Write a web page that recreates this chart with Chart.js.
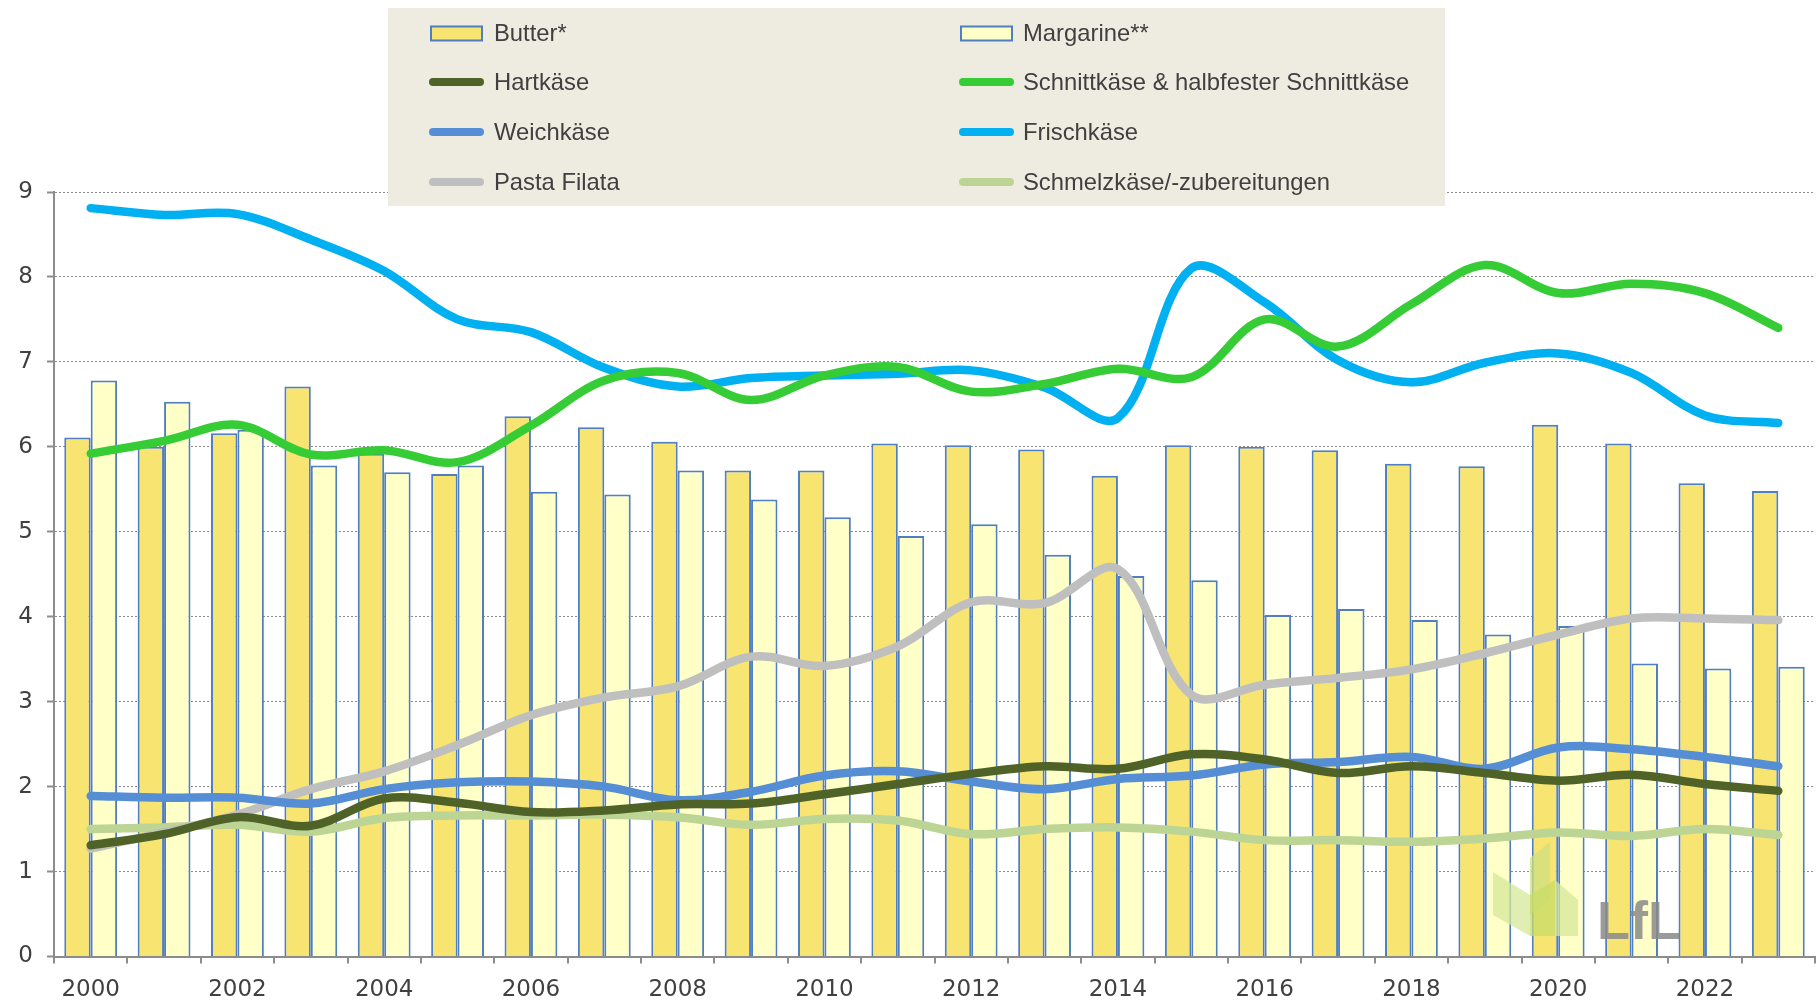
<!DOCTYPE html>
<html><head><meta charset="utf-8">
<script src="https://cdn.jsdelivr.net/npm/chart.js@4/dist/chart.umd.min.js"></script>
<style>html,body{margin:0;padding:0;background:#fff}#wrap{width:1817px;height:1002px}</style>
</head><body><div id="wrap"><canvas id="c" width="1817" height="1002"></canvas></div>
<script>
const years = ['2000','2001','2002','2003','2004','2005','2006','2007','2008','2009','2010','2011','2012','2013','2014','2015','2016','2017','2018','2019','2020','2021','2022','2023'];
const yTicks = [0,1,2,3,4,5,6,7,8,9];
const butter =      [6.11,6.00,6.16,6.71,5.92,5.68,6.36,6.23,6.06,5.72,5.72,6.04,6.02,5.97,5.66,6.02,6.00,5.96,5.80,5.77,6.26,6.04,5.57,5.48];
const margarine =   [6.78,6.53,6.20,5.78,5.70,5.78,5.47,5.44,5.72,5.38,5.17,4.95,5.09,4.73,4.48,4.43,4.02,4.09,3.96,3.79,3.89,3.45,3.39,3.41];
const hartkaese =   [1.31,1.44,1.64,1.54,1.86,1.81,1.70,1.72,1.79,1.80,1.91,2.03,2.15,2.24,2.21,2.38,2.32,2.16,2.24,2.16,2.07,2.14,2.03,1.95];
const schnittkaese =[5.92,6.07,6.26,5.91,5.96,5.82,6.25,6.78,6.87,6.55,6.84,6.94,6.65,6.74,6.92,6.82,7.50,7.18,7.68,8.14,7.81,7.92,7.81,7.40];
const weichkaese =  [1.89,1.87,1.87,1.80,1.97,2.05,2.06,2.00,1.84,1.94,2.13,2.18,2.06,1.97,2.09,2.13,2.26,2.29,2.35,2.21,2.46,2.44,2.35,2.24];
const frischkaese = [8.81,8.73,8.74,8.44,8.07,7.50,7.35,6.93,6.71,6.81,6.84,6.86,6.90,6.70,6.34,8.10,7.70,7.02,6.76,6.99,7.10,6.87,6.37,6.28];
const pastaFilata = [1.27,1.46,1.67,1.97,2.18,2.49,2.84,3.05,3.18,3.53,3.42,3.65,4.17,4.16,4.56,3.08,3.20,3.28,3.38,3.57,3.79,3.98,3.98,3.96];
const schmelzkaese =[1.50,1.52,1.55,1.47,1.63,1.66,1.66,1.67,1.64,1.55,1.62,1.60,1.44,1.50,1.52,1.47,1.37,1.37,1.35,1.39,1.46,1.42,1.50,1.43];

const BAR_BORDER = '#4f7fc0';
function lineDs(label, data, color){
  return {type:'line', label, data, borderColor:color, backgroundColor:color, borderWidth:8.5,
    tension:0.35, pointRadius:0, pointHoverRadius:0, fill:false, borderCapStyle:'round', borderJoinStyle:'round', order:1};
}
const datasets = [
  {type:'bar', label:'Butter*', data:butter, backgroundColor:'#f8e470', borderColor:BAR_BORDER, borderWidth:2, order:10, categoryPercentage:0.72, barPercentage:1.0},
  {type:'bar', label:'Margarine**', data:margarine, backgroundColor:'#ffffc8', borderColor:BAR_BORDER, borderWidth:2, order:10, categoryPercentage:0.72, barPercentage:1.0},
  lineDs('Hartkäse', hartkaese, '#4f6228'),
  lineDs('Schnittkäse & halbfester Schnittkäse', schnittkaese, '#35cc35'),
  lineDs('Weichkäse', weichkaese, '#558ed5'),
  lineDs('Frischkäse', frischkaese, '#00b0f0'),
  lineDs('Pasta Filata', pastaFilata, '#bfbfbf'),
  lineDs('Schmelzkäse/-zubereitungen', schmelzkaese, '#bdd594')
];

const logoPlugin = {
  id:'logo',
  afterDatasetsDraw(chart){
    const ctx = chart.ctx;
    ctx.save();
    ctx.globalAlpha = 0.75;
    const polys = [
      {c:'#d6e89a', p:[[1493,872],[1530,895],[1530,936],[1493,915]]},
      {c:'#cfe080', p:[[1530,858],[1550,842],[1550,900],[1530,915]]},
      {c:'#c8dc6a', p:[[1530,895],[1555,880],[1555,936],[1530,936]]},
      {c:'#d6e89a', p:[[1555,880],[1578,900],[1578,936],[1555,936]]}
    ];
    polys.forEach(o=>{ctx.fillStyle=o.c; ctx.beginPath(); o.p.forEach((q,i)=> i?ctx.lineTo(q[0],q[1]):ctx.moveTo(q[0],q[1])); ctx.closePath(); ctx.fill();});
    ctx.globalAlpha = 0.85;
    ctx.fillStyle = '#8a8a8a';
    ctx.font = 'bold 54px "Liberation Sans", Arial, sans-serif';
    ctx.textBaseline = 'alphabetic';
    ctx.fillText('LfL', 1597, 939);
    ctx.restore();
  }
};

const legendPlugin = {
  id:'boxLegend',
  afterDraw(chart){
    const ctx = chart.ctx;
    ctx.save();
    ctx.fillStyle = '#eeebe0';
    ctx.fillRect(388, 8, 1057, 198);
    const rowY = [33.5, 82, 132, 182];
    const swX = [429, 959];
    const txX = [494, 1023];
    ctx.font = '23.8px "Liberation Sans", Arial, sans-serif';
    ctx.textBaseline = 'middle';
    chart.data.datasets.forEach((ds, i)=>{
      const col = i % 2, row = Math.floor(i/2);
      const y = rowY[row];
      if (ds.type === 'bar'){
        ctx.fillStyle = ds.backgroundColor;
        ctx.fillRect(swX[col]+2, y-7, 51, 14);
        ctx.strokeStyle = ds.borderColor; ctx.lineWidth = 2;
        ctx.strokeRect(swX[col]+2, y-7, 51, 14);
      } else {
        ctx.strokeStyle = ds.borderColor; ctx.lineWidth = 8; ctx.lineCap = 'round';
        ctx.beginPath(); ctx.moveTo(swX[col]+4, y); ctx.lineTo(swX[col]+51, y); ctx.stroke();
      }
      ctx.fillStyle = '#404040';
      ctx.fillText(ds.label, txX[col], y+1);
    });
    ctx.restore();
  }
};

new Chart(document.getElementById('c'), {
  data:{labels:years, datasets},
  options:{
    responsive:false, animation:false, devicePixelRatio:1,
    layout:{padding:{top:192, right:2, left:0, bottom:0}},
    plugins:{legend:{display:false}, tooltip:{enabled:false}},
    scales:{
      x:{
        offset:true,
        grid:{offset:true, drawOnChartArea:false, drawTicks:true, tickLength:7, color:'#8c8c8c', lineWidth:2},
        border:{color:'#8c8c8c', width:2},
        ticks:{autoSkip:false, maxRotation:0, padding:13, color:'#404040', font:{family:'"DejaVu Sans", sans-serif', size:23},
          callback(val, idx){ return idx % 2 === 0 ? this.getLabelForValue(val) : ''; }},
        afterFit(s){ s.height = 45.5; }
      },
      y:{
        min:0, max:9,
        afterBuildTicks(s){ s.ticks = yTicks.map(v=>({value:v})); },
        grid:{color:'#8c8c8c', lineWidth:1, tickLength:7, tickColor:'#8c8c8c', tickWidth:2, tickBorderDash:[]},
        border:{color:'#8c8c8c', width:2, dash:[2,2]},
        ticks:{padding:14, color:'#404040', font:{family:'"DejaVu Sans", sans-serif', size:23}},
        afterFit(s){ s.width = 54; }
      }
    }
  },
  plugins:[logoPlugin, legendPlugin]
});
</script>
</body></html>
